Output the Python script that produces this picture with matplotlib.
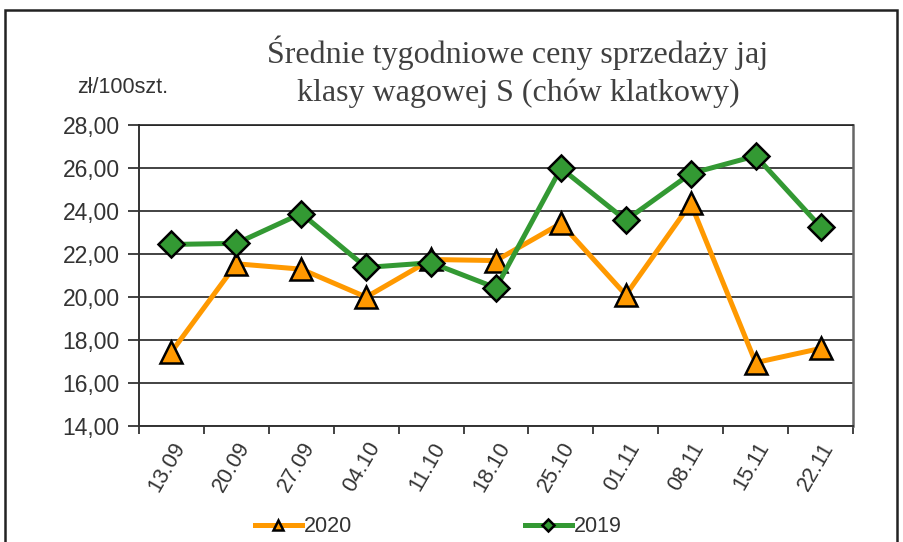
import matplotlib
matplotlib.use("Agg")
import matplotlib.pyplot as plt
from matplotlib.patches import Rectangle
import numpy as np

# data
weeks = ["13.09", "20.09", "27.09", "04.10", "11.10", "18.10",
         "25.10", "01.11", "08.11", "15.11", "22.11"]
prices_2020 = [17.45, 21.55, 21.30, 20.00, 21.75, 21.70,
               23.43, 20.10, 24.36, 16.95, 17.61]
prices_2019 = [22.45, 22.50, 23.89, 21.38, 21.60, 20.43,
               26.00, 23.58, 25.75, 26.57, 23.27]
y_ticks = [14, 16, 18, 20, 22, 24, 26, 28]

orange = "#FF9900"
green = "#339933"

plt.rcParams["font.family"] = ["Liberation Sans", "DejaVu Sans"]

fig = plt.figure(figsize=(9.04, 5.42), dpi=100)
ax = fig.add_axes([0.1538, 0.214, 0.7898, 0.555])

x = np.arange(len(weeks))
ax.plot(x, prices_2020, color=orange, lw=3.6, marker="^", ms=16,
        markerfacecolor=orange, markeredgecolor="black", markeredgewidth=1.8,
        label="2020", zorder=3)
ax.plot(x, prices_2019, color=green, lw=3.6, marker="D", ms=13.5,
        markerfacecolor=green, markeredgecolor="black", markeredgewidth=1.8,
        label="2019", zorder=4)

ax.set_xlim(-0.5, len(weeks) - 0.5)
ax.set_ylim(14, 28)
ax.set_yticks(y_ticks)
ax.set_yticklabels([f"{v:.2f}".replace(".", ",") for v in y_ticks])
ax.yaxis.grid(True, color="#222222", lw=1.2)
ax.set_axisbelow(True)

ax.set_xticks(x)
ax.set_xticklabels(weeks, rotation=60, ha="right", va="top",
                   rotation_mode="anchor")
ax.set_xticks(np.arange(-0.5, len(weeks)), minor=True)
ax.tick_params(axis="x", which="major", length=0, pad=9,
               labelsize=15.5, labelcolor="#333333")
ax.tick_params(axis="x", which="minor", length=6, width=1.2, color="#222222")
ax.tick_params(axis="y", length=8, width=1.2, color="#222222",
               labelsize=16.5, labelcolor="#333333", pad=6)

for side in ["left", "bottom"]:
    ax.spines[side].set_color("#333333")
    ax.spines[side].set_linewidth(1.4)
ax.spines["right"].set_color("#666666")
ax.spines["right"].set_linewidth(1.8)
ax.spines["top"].set_color("#222222")
ax.spines["top"].set_linewidth(1.2)

title_font = ["Liberation Serif", "DejaVu Serif"]
fig.text(0.573, 0.902, "Średnie tygodniowe ceny sprzedaży jaj",
         ha="center", va="center", fontsize=23, color="#404040",
         family=title_font)
fig.text(0.573, 0.828, "klasy wagowej S (chów klatkowy)",
         ha="center", va="center", fontsize=23, color="#404040",
         family=title_font)
fig.text(0.136, 0.838, "zł/100szt.", ha="center", va="center",
         fontsize=15.5, color="#333333")

fig.legend(loc="center", bbox_to_anchor=(0.485, 0.028), ncol=2, frameon=False,
           fontsize=15.5, handlelength=2.2, handletextpad=0.1,
           columnspacing=8, markerscale=0.45, labelcolor="#333333")

fig.patches.append(Rectangle((5 / 904, -0.1), 892 / 904, 1.1 - 10 / 542,
                             transform=fig.transFigure, fill=False,
                             edgecolor="#222222", lw=1.8))

fig.savefig("out.png", dpi=100)
